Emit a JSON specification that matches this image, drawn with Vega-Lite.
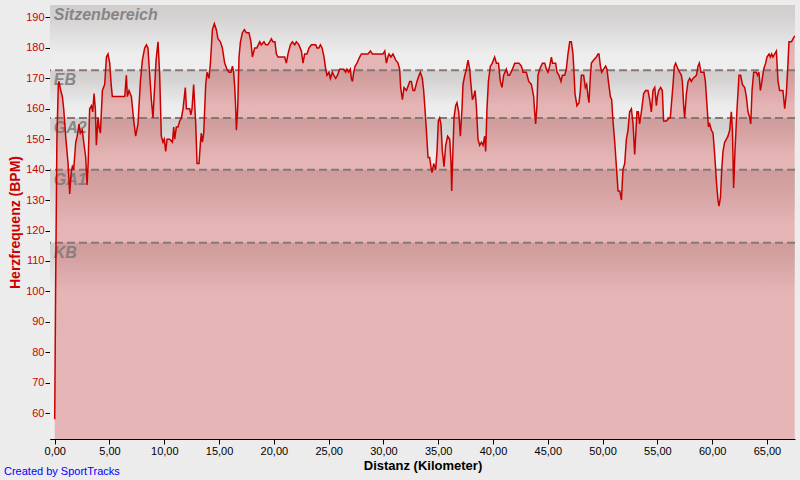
{
  "$schema": "https://vega.github.io/schema/vega-lite/v6.json",
  "width": 745,
  "height": 434,
  "autosize": "none",
  "padding": {"left": 50, "top": 5, "right": 5, "bottom": 41},
  "background": "#ECECEC",
  "title": {"text": "Created by SportTracks", "orient": "bottom", "anchor": "start", "frame": "group", "dx": -46, "offset": -6, "color": "#0000FF", "font": "Liberation Sans", "fontSize": 11, "fontWeight": "normal"},
  "config": {
    "view": {"stroke": null},
    "axis": {"zindex": 1, "labelFont": "Liberation Sans", "labelFontSize": 11, "titleFont": "Liberation Sans", "titleFontSize": 13, "titleFontWeight": "bold", "domainColor": "#000000", "tickColor": "#000000", "tickSize": 5, "grid": true, "gridColor": "#808080", "gridDash": [1, 2], "gridOpacity": 1, "gridWidth": 1}
  },
  "resolve": {"axis": {"x": "independent", "y": "independent"}},
  "datasets": {
    "bands": [
      {"label": "Sitzenbereich", "hi": 194.1, "lo": 172.7},
      {"label": "EB", "hi": 172.7, "lo": 157},
      {"label": "GA2", "hi": 157, "lo": 140},
      {"label": "GA1", "hi": 140, "lo": 116},
      {"label": "KB", "hi": 116, "lo": 51.5}
    ],
    "hr": [
      {"km":0.00,"bpm":58},{"km":0.08,"bpm":100},{"km":0.20,"bpm":150},{"km":0.33,"bpm":168},{"km":0.39,"bpm":169},{"km":0.55,"bpm":166},{"km":0.70,"bpm":164},{"km":0.82,"bpm":160},{"km":1.00,"bpm":151},{"km":1.22,"bpm":142},{"km":1.37,"bpm":132},{"km":1.50,"bpm":139},{"km":1.61,"bpm":141},{"km":1.73,"bpm":140},{"km":1.92,"bpm":149},{"km":2.05,"bpm":151},{"km":2.22,"bpm":155},{"km":2.34,"bpm":152},{"km":2.52,"bpm":153},{"km":2.65,"bpm":149},{"km":2.83,"bpm":144},{"km":2.95,"bpm":135},{"km":3.05,"bpm":142},{"km":3.19,"bpm":160},{"km":3.35,"bpm":161},{"km":3.47,"bpm":159},{"km":3.59,"bpm":165},{"km":3.71,"bpm":160},{"km":3.80,"bpm":148},{"km":3.95,"bpm":157},{"km":4.05,"bpm":154},{"km":4.17,"bpm":152},{"km":4.35,"bpm":166},{"km":4.56,"bpm":168},{"km":4.72,"bpm":177},{"km":4.86,"bpm":178},{"km":5.02,"bpm":175},{"km":5.15,"bpm":168},{"km":5.26,"bpm":164},{"km":5.93,"bpm":164},{"km":6.39,"bpm":164},{"km":6.54,"bpm":171},{"km":6.63,"bpm":164},{"km":6.78,"bpm":166},{"km":7.00,"bpm":164},{"km":7.21,"bpm":156},{"km":7.39,"bpm":151},{"km":7.60,"bpm":155},{"km":7.82,"bpm":169},{"km":8.00,"bpm":176},{"km":8.21,"bpm":180},{"km":8.37,"bpm":181},{"km":8.51,"bpm":180},{"km":8.67,"bpm":171},{"km":8.82,"bpm":163},{"km":8.97,"bpm":157},{"km":9.25,"bpm":176},{"km":9.43,"bpm":182},{"km":9.58,"bpm":171},{"km":9.73,"bpm":151},{"km":9.88,"bpm":149},{"km":10.00,"bpm":150},{"km":10.13,"bpm":146},{"km":10.25,"bpm":150},{"km":10.50,"bpm":150},{"km":10.74,"bpm":149},{"km":10.86,"bpm":154},{"km":10.95,"bpm":150},{"km":11.10,"bpm":154},{"km":11.25,"bpm":154},{"km":11.41,"bpm":156},{"km":11.56,"bpm":157},{"km":11.71,"bpm":160},{"km":11.92,"bpm":167},{"km":12.02,"bpm":160},{"km":12.32,"bpm":160},{"km":12.42,"bpm":158},{"km":12.53,"bpm":160},{"km":12.68,"bpm":168},{"km":12.87,"bpm":155},{"km":12.99,"bpm":142},{"km":13.17,"bpm":142},{"km":13.30,"bpm":149},{"km":13.38,"bpm":152},{"km":13.48,"bpm":149},{"km":13.60,"bpm":152},{"km":13.78,"bpm":168},{"km":13.90,"bpm":172},{"km":14.08,"bpm":170},{"km":14.21,"bpm":175},{"km":14.39,"bpm":186},{"km":14.57,"bpm":188},{"km":14.75,"bpm":186},{"km":14.90,"bpm":183},{"km":15.12,"bpm":182},{"km":15.30,"bpm":180},{"km":15.51,"bpm":175},{"km":15.72,"bpm":173},{"km":15.91,"bpm":172},{"km":16.09,"bpm":172},{"km":16.22,"bpm":174},{"km":16.33,"bpm":172},{"km":16.43,"bpm":167},{"km":16.52,"bpm":160},{"km":16.58,"bpm":153},{"km":16.70,"bpm":160},{"km":16.82,"bpm":177},{"km":16.95,"bpm":182},{"km":17.13,"bpm":185},{"km":17.31,"bpm":186},{"km":17.49,"bpm":185},{"km":17.73,"bpm":185},{"km":17.91,"bpm":182},{"km":18.04,"bpm":177},{"km":18.25,"bpm":180},{"km":18.45,"bpm":180},{"km":18.71,"bpm":182},{"km":18.85,"bpm":181},{"km":19.10,"bpm":182},{"km":19.26,"bpm":181},{"km":19.45,"bpm":181},{"km":19.62,"bpm":182},{"km":19.77,"bpm":183},{"km":19.92,"bpm":182},{"km":20.10,"bpm":182},{"km":20.23,"bpm":178},{"km":20.38,"bpm":177},{"km":20.99,"bpm":177},{"km":21.14,"bpm":175},{"km":21.29,"bpm":178},{"km":21.51,"bpm":181},{"km":21.69,"bpm":182},{"km":21.90,"bpm":181},{"km":22.05,"bpm":182},{"km":22.29,"bpm":181},{"km":22.51,"bpm":179},{"km":22.66,"bpm":175},{"km":22.81,"bpm":178},{"km":23.02,"bpm":178},{"km":23.21,"bpm":180},{"km":23.43,"bpm":181},{"km":23.82,"bpm":181},{"km":23.94,"bpm":180},{"km":24.10,"bpm":180},{"km":24.25,"bpm":181},{"km":24.40,"bpm":180},{"km":24.58,"bpm":177},{"km":24.73,"bpm":173},{"km":24.85,"bpm":171},{"km":25.03,"bpm":172},{"km":25.16,"bpm":170},{"km":25.34,"bpm":172},{"km":25.48,"bpm":171},{"km":25.64,"bpm":170},{"km":25.80,"bpm":171},{"km":26.01,"bpm":173},{"km":26.37,"bpm":173},{"km":26.55,"bpm":172},{"km":26.67,"bpm":173},{"km":26.82,"bpm":172},{"km":26.98,"bpm":173},{"km":27.07,"bpm":170},{"km":27.17,"bpm":169},{"km":27.29,"bpm":172},{"km":27.41,"bpm":174},{"km":27.59,"bpm":175},{"km":27.83,"bpm":177},{"km":27.99,"bpm":178},{"km":28.29,"bpm":178},{"km":28.59,"bpm":178},{"km":28.81,"bpm":179},{"km":28.99,"bpm":178},{"km":29.20,"bpm":178},{"km":29.41,"bpm":178},{"km":29.60,"bpm":178},{"km":29.78,"bpm":178},{"km":29.96,"bpm":178},{"km":30.12,"bpm":179},{"km":30.27,"bpm":175},{"km":30.40,"bpm":177},{"km":30.51,"bpm":178},{"km":30.68,"bpm":177},{"km":30.87,"bpm":178},{"km":31.12,"bpm":176},{"km":31.33,"bpm":175},{"km":31.48,"bpm":173},{"km":31.57,"bpm":167},{"km":31.73,"bpm":163},{"km":31.88,"bpm":167},{"km":32.10,"bpm":166},{"km":32.40,"bpm":169},{"km":32.55,"bpm":169},{"km":32.70,"bpm":166},{"km":32.85,"bpm":166},{"km":33.06,"bpm":169},{"km":33.25,"bpm":171},{"km":33.37,"bpm":172},{"km":33.55,"bpm":170},{"km":33.67,"bpm":166},{"km":33.79,"bpm":160},{"km":33.92,"bpm":153},{"km":34.07,"bpm":144},{"km":34.22,"bpm":144},{"km":34.33,"bpm":141},{"km":34.43,"bpm":139},{"km":34.59,"bpm":142},{"km":34.77,"bpm":140},{"km":34.89,"bpm":146},{"km":35.01,"bpm":156},{"km":35.13,"bpm":157},{"km":35.25,"bpm":155},{"km":35.38,"bpm":146},{"km":35.53,"bpm":141},{"km":35.68,"bpm":148},{"km":35.86,"bpm":151},{"km":36.05,"bpm":150},{"km":36.17,"bpm":142},{"km":36.23,"bpm":133},{"km":36.33,"bpm":145},{"km":36.44,"bpm":157},{"km":36.59,"bpm":161},{"km":36.71,"bpm":162},{"km":36.87,"bpm":159},{"km":37.02,"bpm":151},{"km":37.17,"bpm":160},{"km":37.26,"bpm":168},{"km":37.42,"bpm":171},{"km":37.57,"bpm":173},{"km":37.72,"bpm":176},{"km":37.87,"bpm":173},{"km":37.96,"bpm":169},{"km":38.12,"bpm":163},{"km":38.24,"bpm":164},{"km":38.36,"bpm":166},{"km":38.48,"bpm":161},{"km":38.63,"bpm":150},{"km":38.78,"bpm":148},{"km":38.94,"bpm":149},{"km":39.09,"bpm":148},{"km":39.24,"bpm":151},{"km":39.33,"bpm":146},{"km":39.45,"bpm":160},{"km":39.58,"bpm":169},{"km":39.76,"bpm":174},{"km":39.94,"bpm":175},{"km":40.15,"bpm":177},{"km":40.31,"bpm":175},{"km":40.50,"bpm":175},{"km":40.67,"bpm":169},{"km":40.82,"bpm":167},{"km":40.97,"bpm":171},{"km":41.22,"bpm":173},{"km":41.37,"bpm":171},{"km":41.52,"bpm":171},{"km":41.77,"bpm":173},{"km":41.98,"bpm":175},{"km":42.19,"bpm":175},{"km":42.37,"bpm":175},{"km":42.59,"bpm":174},{"km":42.74,"bpm":172},{"km":43.04,"bpm":172},{"km":43.26,"bpm":169},{"km":43.50,"bpm":168},{"km":43.71,"bpm":164},{"km":43.80,"bpm":159},{"km":43.89,"bpm":155},{"km":44.01,"bpm":161},{"km":44.10,"bpm":171},{"km":44.26,"bpm":173},{"km":44.51,"bpm":175},{"km":44.72,"bpm":175},{"km":44.87,"bpm":173},{"km":45.02,"bpm":172},{"km":45.17,"bpm":174},{"km":45.33,"bpm":177},{"km":45.43,"bpm":175},{"km":45.54,"bpm":175},{"km":45.72,"bpm":175},{"km":45.84,"bpm":172},{"km":46.02,"bpm":171},{"km":46.20,"bpm":169},{"km":46.33,"bpm":171},{"km":46.54,"bpm":171},{"km":46.69,"bpm":173},{"km":46.84,"bpm":178},{"km":47.00,"bpm":182},{"km":47.15,"bpm":182},{"km":47.30,"bpm":178},{"km":47.39,"bpm":172},{"km":47.48,"bpm":165},{"km":47.66,"bpm":161},{"km":47.85,"bpm":162},{"km":47.97,"bpm":166},{"km":48.06,"bpm":171},{"km":48.27,"bpm":171},{"km":48.43,"bpm":167},{"km":48.55,"bpm":168},{"km":48.67,"bpm":164},{"km":48.76,"bpm":162},{"km":48.89,"bpm":171},{"km":48.98,"bpm":175},{"km":49.19,"bpm":176},{"km":49.43,"bpm":177},{"km":49.58,"bpm":178},{"km":49.67,"bpm":178},{"km":49.80,"bpm":174},{"km":49.92,"bpm":172},{"km":50.10,"bpm":173},{"km":50.28,"bpm":174},{"km":50.40,"bpm":173},{"km":50.53,"bpm":169},{"km":50.71,"bpm":164},{"km":50.83,"bpm":163},{"km":50.95,"bpm":156},{"km":51.11,"bpm":149},{"km":51.26,"bpm":141},{"km":51.41,"bpm":133},{"km":51.56,"bpm":133},{"km":51.72,"bpm":130},{"km":51.86,"bpm":140},{"km":52.02,"bpm":142},{"km":52.17,"bpm":150},{"km":52.32,"bpm":153},{"km":52.47,"bpm":159},{"km":52.63,"bpm":160},{"km":52.78,"bpm":155},{"km":52.93,"bpm":145},{"km":53.02,"bpm":151},{"km":53.14,"bpm":159},{"km":53.26,"bpm":159},{"km":53.38,"bpm":155},{"km":53.54,"bpm":159},{"km":53.75,"bpm":165},{"km":53.93,"bpm":166},{"km":54.14,"bpm":166},{"km":54.30,"bpm":163},{"km":54.45,"bpm":159},{"km":54.60,"bpm":166},{"km":54.76,"bpm":167},{"km":54.91,"bpm":161},{"km":55.00,"bpm":164},{"km":55.12,"bpm":166},{"km":55.30,"bpm":167},{"km":55.45,"bpm":166},{"km":55.57,"bpm":156},{"km":55.82,"bpm":156},{"km":56.06,"bpm":157},{"km":56.18,"bpm":157},{"km":56.27,"bpm":161},{"km":56.43,"bpm":168},{"km":56.55,"bpm":174},{"km":56.67,"bpm":175},{"km":56.88,"bpm":173},{"km":57.04,"bpm":172},{"km":57.19,"bpm":171},{"km":57.28,"bpm":169},{"km":57.40,"bpm":161},{"km":57.49,"bpm":157},{"km":57.65,"bpm":165},{"km":57.80,"bpm":169},{"km":57.95,"bpm":170},{"km":58.10,"bpm":169},{"km":58.25,"bpm":170},{"km":58.56,"bpm":171},{"km":58.71,"bpm":174},{"km":58.83,"bpm":175},{"km":58.98,"bpm":172},{"km":59.10,"bpm":172},{"km":59.25,"bpm":172},{"km":59.38,"bpm":169},{"km":59.53,"bpm":161},{"km":59.66,"bpm":154},{"km":59.78,"bpm":155},{"km":59.93,"bpm":153},{"km":60.08,"bpm":152},{"km":60.23,"bpm":145},{"km":60.39,"bpm":136},{"km":60.53,"bpm":130},{"km":60.63,"bpm":128},{"km":60.76,"bpm":131},{"km":60.87,"bpm":140},{"km":60.99,"bpm":146},{"km":61.14,"bpm":149},{"km":61.30,"bpm":150},{"km":61.44,"bpm":151},{"km":61.60,"bpm":153},{"km":61.75,"bpm":159},{"km":61.85,"bpm":153},{"km":61.96,"bpm":134},{"km":62.08,"bpm":146},{"km":62.27,"bpm":160},{"km":62.45,"bpm":171},{"km":62.60,"bpm":171},{"km":62.76,"bpm":168},{"km":62.97,"bpm":167},{"km":63.12,"bpm":164},{"km":63.27,"bpm":159},{"km":63.43,"bpm":157},{"km":63.52,"bpm":155},{"km":63.64,"bpm":166},{"km":63.79,"bpm":172},{"km":64.04,"bpm":172},{"km":64.15,"bpm":171},{"km":64.27,"bpm":172},{"km":64.40,"bpm":166},{"km":64.50,"bpm":168},{"km":64.70,"bpm":173},{"km":64.88,"bpm":175},{"km":65.00,"bpm":177},{"km":65.19,"bpm":178},{"km":65.31,"bpm":177},{"km":65.43,"bpm":178},{"km":65.55,"bpm":177},{"km":65.70,"bpm":178},{"km":65.86,"bpm":179},{"km":66.01,"bpm":169},{"km":66.16,"bpm":166},{"km":66.46,"bpm":166},{"km":66.62,"bpm":160},{"km":66.77,"bpm":165},{"km":66.92,"bpm":175},{"km":67.01,"bpm":182},{"km":67.23,"bpm":182},{"km":67.38,"bpm":183},{"km":67.53,"bpm":184}
    ]
  },
  "layer": [
    {
      "data": {"name": "bands"},
      "transform": [{"filter": "datum.label !== 'KB'"}],
      "mark": {"type": "rect", "color": {"gradient": "linear", "x1": 0, "y1": 0, "x2": 0, "y2": 1, "stops": [{"offset": 0, "color": "#D1CDCD"}, {"offset": 0.2, "color": "#D5D2D2"}, {"offset": 0.75, "color": "#EDEDED"}, {"offset": 1, "color": "#EEEEEE"}]}},
      "encoding": {
        "y": {"field": "hi", "type": "quantitative", "scale": {"domain": [51.5, 194.1], "nice": false, "zero": false}, "axis": null},
        "y2": {"field": "lo"}
      }
    },
    {
      "data": {"name": "bands"},
      "transform": [{"filter": "datum.label === 'KB'"}],
      "mark": {"type": "rect", "color": {"gradient": "linear", "x1": 0, "y1": 0, "x2": 0, "y2": 1, "stops": [{"offset": 0, "color": "#D1CDCD"}, {"offset": 0.06, "color": "#D5D2D2"}, {"offset": 0.25, "color": "#EDEDED"}, {"offset": 1, "color": "#EEEEEE"}]}},
      "encoding": {
        "y": {"field": "hi", "type": "quantitative", "axis": null},
        "y2": {"field": "lo"}
      }
    },
    {
      "data": {"name": "hr"},
      "mark": {"type": "area", "color": "#CC0000", "fillOpacity": 0.24},
      "encoding": {
        "x": {"field": "km", "type": "quantitative", "axis": null},
        "y": {"field": "bpm", "type": "quantitative", "axis": null},
        "y2": {"datum": 51.5}
      }
    },
    {
      "data": {"name": "bands"},
      "transform": [{"filter": "datum.label !== 'KB'"}],
      "mark": {"type": "rule", "color": "#857876", "strokeWidth": 2, "strokeDash": [8, 4]},
      "encoding": {
        "y": {"field": "lo", "type": "quantitative", "axis": null}
      }
    },
    {
      "data": {"name": "bands"},
      "mark": {"type": "text", "align": "left", "baseline": "top", "dx": -1, "dy": 2, "font": "Liberation Sans", "fontSize": 16, "fontStyle": "italic", "fontWeight": "bold", "color": "#7A7A7A", "opacity": 0.85},
      "encoding": {
        "x": {"datum": 0, "type": "quantitative", "axis": null},
        "y": {"field": "hi", "type": "quantitative", "axis": null},
        "text": {"field": "label"}
      }
    },
    {
      "data": {"name": "hr"},
      "mark": {"type": "line", "color": "#C80000", "strokeWidth": 1.5},
      "encoding": {
        "x": {"field": "km", "type": "quantitative", "scale": {"domain": [-0.43, 67.56], "nice": false, "zero": false},
          "axis": {"title": "Distanz (Kilometer)", "values": [0,5,10,15,20,25,30,35,40,45,50,55,60,65], "labelExpr": "replace(format(datum.value, '.2f'), '.', ',')", "labelColor": "#000000", "titleColor": "#000000", "labelPadding": 1, "titlePadding": 3}},
        "y": {"field": "bpm", "type": "quantitative",
          "axis": {"title": "Herzfrequenz (BPM)", "values": [60,70,80,90,100,110,120,130,140,150,160,170,180,190], "labelColor": "#CC0000", "titleColor": "#CC0000", "titleFontSize": 14, "labelPadding": 1, "titlePadding": 3}}
      }
    }
  ]
}
